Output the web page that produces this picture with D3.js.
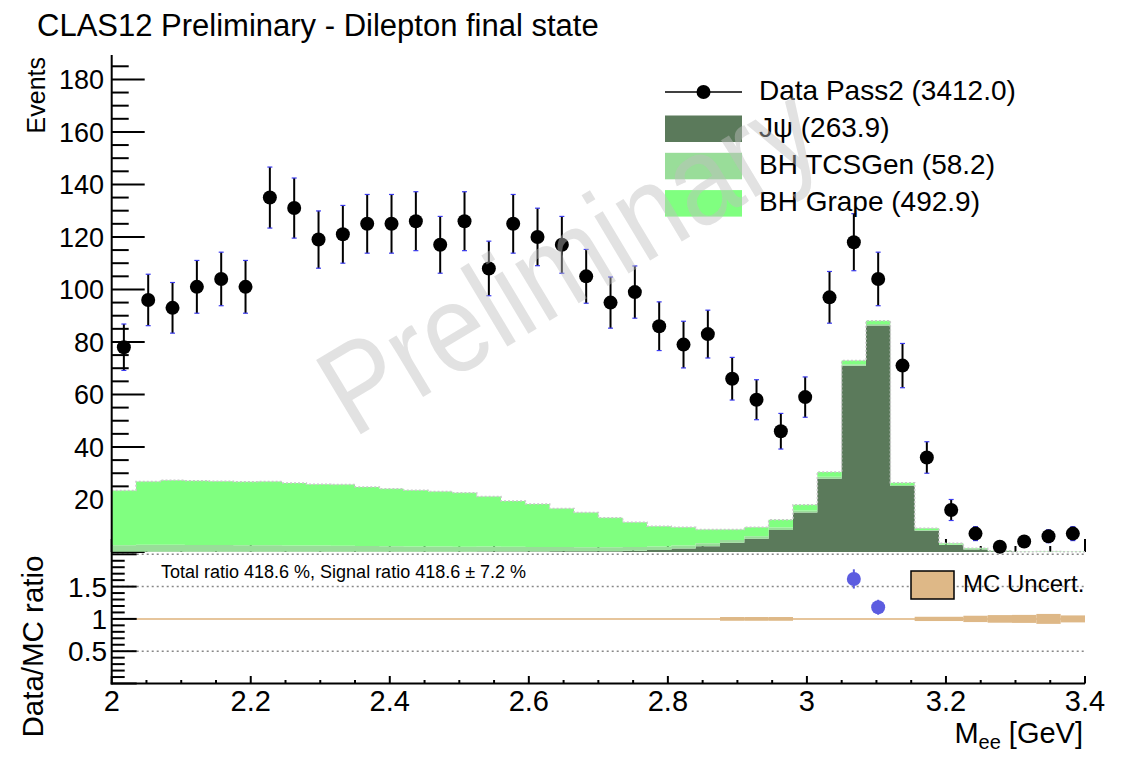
<!DOCTYPE html>
<html>
<head>
<meta charset="utf-8">
<script src="https://cdn.jsdelivr.net/npm/d3@7"></script>
<style>
  html, body { margin: 0; padding: 0; background: #fff; }
  svg { display: block; font-family: "Liberation Sans", Arial, Helvetica, sans-serif; }
</style>
</head>
<body>
<svg id="chart" width="1127" height="757"></svg>
<script>
// Invariant-mass bin edges [GeV]
const binEdges = [2.000, 2.035, 2.070, 2.105, 2.140, 2.175, 2.210, 2.245, 2.280, 2.315,
  2.350, 2.385, 2.420, 2.455, 2.490, 2.525, 2.560, 2.595, 2.630, 2.665,
  2.700, 2.735, 2.770, 2.805, 2.840, 2.875, 2.910, 2.945, 2.980, 3.015,
  3.050, 3.085, 3.120, 3.155, 3.190, 3.225, 3.260, 3.295, 3.330, 3.365, 3.400];

// Data (Pass2) counts per bin
const dataCounts = [78, 96, 93, 101, 104, 101, 135, 131, 119, 121,
  125, 125, 126, 117, 126, 108, 125, 120, 117, 105,
  95, 99, 86, 79, 83, 66, 58, 46, 59, 97,
  118, 104, 71, 36, 16, 7, 2, 4, 6, 7];

// MC components (stacked, bottom to top)
const jpsiMC = [0.05, 0.05, 0.05, 0.05, 0.05, 0.05, 0.05, 0.05, 0.05, 0.05,
  0.1, 0.1, 0.1, 0.1, 0.1, 0.15, 0.2, 0.2, 0.25, 0.25,
  0.3, 0.5, 0.8, 1.3, 2.2, 3.5, 5.0, 8.4, 15.0, 27.9,
  70.9, 86.3, 25.1, 8.1, 2.7, 1.0, 0.3, 0, 0, 0];
const tcsgenMC = [2.5, 2.7, 2.7, 2.6, 2.6, 2.5, 2.5, 2.4, 2.4, 2.3,
  2.2, 2.1, 2.0, 2.0, 1.9, 1.9, 1.8, 1.7, 1.7, 1.6,
  1.5, 1.4, 1.3, 1.2, 1.1, 1.1, 1.0, 0.9, 0.8, 0.8,
  0.6, 0.5, 0.4, 0.3, 0.2, 0.1, 0.1, 0, 0.1, 0];
const grapeMC = [20.9, 24.1, 24.6, 24.5, 24.3, 24.2, 24.3, 23.8, 23.4, 23.4,
  22.5, 21.9, 21.4, 20.9, 20.6, 19.1, 17.4, 16.4, 14.6, 13.2,
  11.2, 9.4, 7.7, 6.9, 5.3, 4.0, 3.4, 3.0, 2.2, 1.8,
  1.4, 1.3, 0.9, 0.6, 0.4, 0.3, 0.1, 0.05, 0.1, 0.05];

// Relative MC statistical uncertainty (half width of the band around 1)
const mcUncert = [0, 0, 0, 0, 0, 0, 0, 0, 0, 0,
  0, 0, 0, 0, 0, 0, 0, 0, 0, 0,
  0, 0, 0, 0, 0, 0.029, 0.029, 0.029, 0, 0,
  0, 0, 0, 0.033, 0.033, 0.049, 0.059, 0.062, 0.077, 0.054];

const legendLabels = ["Data Pass2 (3412.0)", "J\u03c8 (263.9)", "BH TCSGen (58.2)", "BH Grape (492.9)"];
const mainTicks = [20, 40, 60, 80, 100, 120, 140, 160, 180];
const ratioTicks = [0.5, 1, 1.5];
const massTicks = [2, 2.2, 2.4, 2.6, 2.8, 3, 3.2, 3.4];

const colJpsi = "#5b7a5b", colTcs = "#99dd99", colGrape = "#80ff80", colBand = "#deb887";

const svg = d3.select("#chart");

// Scales
const x = d3.scaleLinear().domain([2, 3.4]).range([111.7, 1085]);
const y = d3.scaleLinear().domain([0, 189.3]).range([552, 55]);
const yr = d3.scaleLinear().domain([0, 2]).range([683.5, 554.3]);

const nb = dataCounts.length;
const rows = d3.range(nb).map(i => ({
  lo: binEdges[i], hi: binEdges[i + 1],
  jpsi: jpsiMC[i], tcsgen: tcsgenMC[i], grape: grapeMC[i]
}));
const totals = rows.map(r => r.jpsi + r.tcsgen + r.grape);
const centers = rows.map(r => (r.lo + r.hi) / 2);

// ---------- main pad ticks (drawn first, histograms cover them) ----------
const gMain = svg.append("g");
gMain.selectAll(".ytickM").data(d3.range(0, 186, 5)).join("line")
  .attr("x1", 111.7).attr("x2", d => 111.7 + (d % 20 === 0 ? 33 : 17))
  .attr("y1", d => y(d)).attr("y2", d => y(d))
  .attr("stroke", "#000").attr("stroke-width", 2);
gMain.selectAll(".xtickM").data(d3.range(2, 3.4001, 0.05)).join("line")
  .attr("x1", d => x(d)).attr("x2", d => x(d))
  .attr("y1", 552).attr("y2", d => Math.abs(d * 5 - Math.round(d * 5)) < 1e-6 ? 539 : 546)
  .attr("stroke", "#000").attr("stroke-width", 2);

// ---------- stacked MC ----------
const stack = d3.stack().keys(["jpsi", "tcsgen", "grape"]);
const layers = stack(rows);
const stepPts = layer => layer.flatMap(d => [
  { x: d.data.lo, y0: d[0], y1: d[1] }, { x: d.data.hi, y0: d[0], y1: d[1] }
]);
const area = d3.area().x(p => x(p.x)).y0(p => y(p.y0)).y1(p => y(p.y1));
const layerColors = [colJpsi, colTcs, colGrape];
svg.append("g").selectAll("path").data(layers).join("path")
  .attr("d", l => area(stepPts(l)))
  .attr("fill", (l, i) => layerColors[i]);

// dotted outline on top of the stack
const topLine = d3.line().x(p => x(p.x)).y(p => y(p.y1));
svg.append("path")
  .attr("d", topLine(stepPts(layers[2])))
  .attr("fill", "none").attr("stroke", "#c8c8c8").attr("stroke-width", 1.5)
  .attr("stroke-dasharray", "2,2");

// main left axis line and labels
svg.append("line").attr("x1", 111.7).attr("x2", 111.7).attr("y1", 55).attr("y2", 553)
  .attr("stroke", "#000").attr("stroke-width", 2);
svg.append("g").selectAll("text").data(mainTicks).join("text")
  .attr("x", 104).attr("y", d => y(d) + 9.7)
  .attr("text-anchor", "end").attr("font-size", 27).text(d => d);

// ---------- data points ----------
const gData = svg.append("g");
rows.forEach((r, i) => {
  const cx = x(centers[i]), v = dataCounts[i], e = Math.sqrt(v);
  gData.append("line").attr("x1", cx).attr("x2", cx).attr("y1", y(v + e)).attr("y2", y(Math.max(0, v - e)))
    .attr("stroke", "#000").attr("stroke-width", 2);
  [v + e, v - e].forEach(t => {
    if (t > 0) gData.append("line").attr("x1", cx - 2.5).attr("x2", cx + 2.5).attr("y1", y(t)).attr("y2", y(t))
      .attr("stroke", "#3a3aee").attr("stroke-width", 1.2);
  });
  gData.append("circle").attr("cx", cx).attr("cy", y(v)).attr("r", 7).attr("fill", "#000");
});

// ---------- legend ----------
const gLeg = svg.append("g");
gLeg.append("line").attr("x1", 665).attr("x2", 742).attr("y1", 92).attr("y2", 92).attr("stroke", "#000").attr("stroke-width", 1.5);
gLeg.append("circle").attr("cx", 703.5).attr("cy", 92).attr("r", 7).attr("fill", "#000");
[colJpsi, colTcs, colGrape].forEach((c, i) => {
  gLeg.append("rect").attr("x", 665).attr("y", 115.5 + i * 37.3).attr("width", 77).attr("height", 26.5).attr("fill", c);
});
gLeg.selectAll("text").data(legendLabels).join("text")
  .attr("x", 759).attr("y", (d, i) => 100 + i * 37.1)
  .attr("font-size", 28).text(d => d);

// ---------- ratio pad ----------
const gR = svg.append("g");
// reference dotted lines
[2, 1.5, 0.5].forEach(v => {
  gR.append("line").attr("x1", 111.7).attr("x2", 1085).attr("y1", yr(v)).attr("y2", yr(v))
    .attr("stroke", "#888").attr("stroke-width", 1.5).attr("stroke-dasharray", "2,3");
});
// MC uncertainty band
gR.append("line").attr("x1", 111.7).attr("x2", 1085).attr("y1", yr(1)).attr("y2", yr(1))
  .attr("stroke", "#e6c59c").attr("stroke-width", 2);
gR.selectAll(".band").data(rows.map((r, i) => ({ r, u: mcUncert[i] })).filter(d => d.u > 0)).join("rect")
  .attr("x", d => x(d.r.lo)).attr("width", d => x(d.r.hi) - x(d.r.lo))
  .attr("y", d => yr(1 + d.u)).attr("height", d => yr(1 - d.u) - yr(1 + d.u))
  .attr("fill", colBand);

// ratio points (only those inside the pad range)
rows.forEach((r, i) => {
  const mc = totals[i];
  if (mc <= 0) return;
  const rat = dataCounts[i] / mc, er = Math.sqrt(dataCounts[i]) / mc;
  if (rat <= 0 || rat > 2) return;
  const cx = x(centers[i]);
  gR.append("line").attr("x1", cx).attr("x2", cx).attr("y1", yr(rat + er)).attr("y2", yr(rat - er))
    .attr("stroke", "#5c5ce0").attr("stroke-width", 2);
  gR.append("circle").attr("cx", cx).attr("cy", yr(rat)).attr("r", 7).attr("fill", "#5c5ce0");
});

// ratio legend
gR.append("rect").attr("x", 911).attr("y", 571).attr("width", 43).attr("height", 28)
  .attr("fill", colBand).attr("stroke", "#000").attr("stroke-width", 1.5);
gR.append("text").attr("x", 963).attr("y", 592).attr("font-size", 24).text("MC Uncert.");

gR.append("text").attr("x", 161).attr("y", 578).attr("font-size", 18)
  .text("Total ratio 418.6 %, Signal ratio 418.6 \u00b1 7.2 %");

// ratio axes
gR.selectAll(".ytickR").data(d3.range(0, 2.001, 0.1)).join("line")
  .attr("x1", 111.7).attr("x2", d => 111.7 + (Math.abs(d * 2 - Math.round(d * 2)) < 1e-6 ? 25 : 13))
  .attr("y1", d => yr(d)).attr("y2", d => yr(d))
  .attr("stroke", "#000").attr("stroke-width", 2);
gR.append("line").attr("x1", 111.7).attr("x2", 111.7).attr("y1", 553).attr("y2", 684.5)
  .attr("stroke", "#000").attr("stroke-width", 2);
gR.selectAll(".ylabR").data(ratioTicks).join("text")
  .attr("x", 107).attr("y", d => yr(d) + 10).attr("text-anchor", "end")
  .attr("font-size", 28).text(d => d);

gR.selectAll(".xtickR").data(d3.range(2, 3.4001, 0.05)).join("line")
  .attr("x1", d => x(d)).attr("x2", d => x(d))
  .attr("y1", 683.5).attr("y2", d => Math.abs(d * 5 - Math.round(d * 5)) < 1e-6 ? 676 : 680)
  .attr("stroke", "#000").attr("stroke-width", 2);
gR.append("line").attr("x1", 110.7).attr("x2", 1085).attr("y1", 683.5).attr("y2", 683.5)
  .attr("stroke", "#000").attr("stroke-width", 2);
gR.selectAll(".xlab").data(massTicks).join("text")
  .attr("x", d => x(d)).attr("y", 710.5).attr("text-anchor", "middle")
  .attr("font-size", 29).text(d => d3.format("")(+d.toFixed(1)));

// axis titles
const xt = svg.append("text").attr("x", 1083).attr("y", 743).attr("text-anchor", "end").attr("font-size", 29);
xt.append("tspan").text("M");
xt.append("tspan").attr("font-size", 20).attr("dy", 6).text("ee");
xt.append("tspan").attr("dy", -6).text(" [GeV]");

svg.append("text").attr("transform", "translate(45,57) rotate(-90)")
  .attr("text-anchor", "end").attr("font-size", 25).text("Events");
svg.append("text").attr("transform", "translate(43,646.5) rotate(-90)")
  .attr("text-anchor", "middle").attr("font-size", 29.5).text("Data/MC ratio");

// title
svg.append("text").attr("x", 37).attr("y", 36).attr("font-size", 31)
  .text("CLAS12 Preliminary - Dilepton final state");

// watermark
svg.append("text").attr("transform", "translate(353,439) rotate(-31) scale(0.88,1)")
  .attr("font-size", 126).attr("fill", "rgb(190,190,190)").attr("fill-opacity", 0.45)
  .text("Preliminary");
</script>
</body>
</html>
